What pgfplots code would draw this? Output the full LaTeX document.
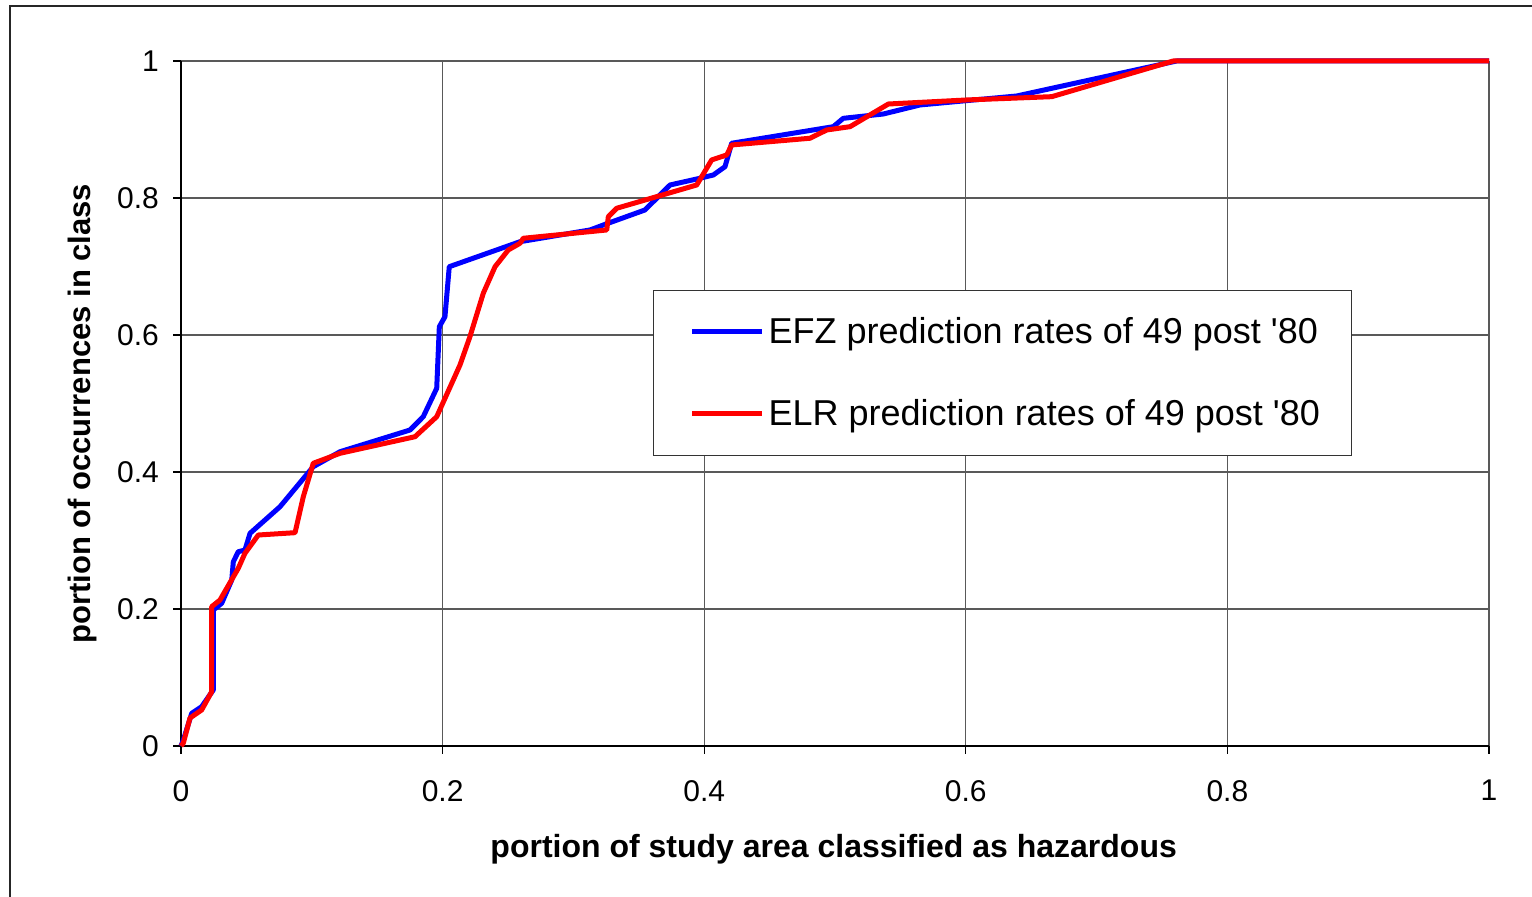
\documentclass[border=0pt]{standalone}
\usepackage{fontspec}
\setmainfont{Liberation Sans}
\usepackage{pgfplots}
\usepackage{pgfplotstable}
\pgfplotsset{compat=1.18}

\pgfplotstableread{
x y
0 0
0.0018 0.0088
0.0082 0.0477
0.0158 0.0574
0.0247 0.0818
0.0247 0.1985
0.0311 0.2083
0.0388 0.2423
0.0400 0.2690
0.0438 0.2836
0.0489 0.2861
0.0528 0.3105
0.0757 0.3493
0.1011 0.4077
0.1216 0.4296
0.1751 0.4613
0.1852 0.4807
0.1955 0.5222
0.1975 0.6121
0.2018 0.6267
0.2051 0.6997
0.2592 0.7362
0.3127 0.7533
0.3229 0.7606
0.3547 0.7825
0.3739 0.8190
0.3968 0.8288
0.4070 0.8336
0.4159 0.8457
0.4210 0.8799
0.4987 0.9041
0.5063 0.9163
0.5369 0.9226
0.5650 0.9358
0.6389 0.9489
0.7612 1.0000
1 1
}\efz

\pgfplotstableread{
x y
0 0
0.0018 0.0044
0.0069 0.0409
0.0158 0.0526
0.0235 0.0793
0.0235 0.2034
0.0298 0.2131
0.0438 0.2594
0.0489 0.2813
0.0591 0.3080
0.0872 0.3114
0.0935 0.3639
0.1011 0.4127
0.1216 0.4273
0.1789 0.4515
0.1955 0.4807
0.2133 0.5562
0.2209 0.5975
0.2311 0.6609
0.2401 0.6997
0.2502 0.7241
0.2592 0.7339
0.2617 0.7412
0.3255 0.7533
0.3267 0.7727
0.3331 0.7850
0.3943 0.8190
0.4057 0.8555
0.4172 0.8628
0.4210 0.8774
0.4809 0.8872
0.4937 0.8993
0.5115 0.9041
0.5408 0.9372
0.6007 0.9431
0.6657 0.9479
0.7586 1.0000
1 1
}\elr

\begin{document}
\begin{tikzpicture}
\useasboundingbox (0,0) rectangle (766pt,448.5pt);
\begin{axis}[
  at={(90.5pt,75.5pt)}, anchor=south west,
  scale only axis, width=654pt, height=342.5pt,
  xmin=0, xmax=1, ymin=0, ymax=1,
  xtick={0,0.2,0.4,0.6,0.8,1},
  ytick={0,0.2,0.4,0.6,0.8,1},
  xticklabels={0,0.2,0.4,0.6,0.8,1},
  yticklabels={0,0.2,0.4,0.6,0.8,1},
  axis x line=bottom, axis y line=left,
  axis line style={-, black, line width=0.75pt},
  tick align=outside, major tick length=4pt,
  tick style={black, line width=0.6pt},
  grid=major,
  major grid style={black!65, line width=0.55pt},
  clip=false,
  /pgf/number format/assume math mode=true,
  tick label style={font=\fontsize{15}{17}\selectfont},
  xticklabel style={yshift=-9.5pt},
  yticklabel style={xshift=-3.5pt},
  xlabel={\bfseries portion of study area classified as hazardous},
  ylabel={\bfseries portion of occurrences in class},
  xlabel style={at={(axis description cs:0.499,-0.1504)}, anchor=center, font=\fontsize{16}{18}\selectfont},
  ylabel style={at={(axis description cs:-0.0757,0.485)}, anchor=center, rotate=0, font=\fontsize{15.5}{18}\selectfont},
  legend style={at={(axis cs:0.361,0.666)}, anchor=north west,
    draw=black!80, line width=0.5pt,
    font=\fontsize{18}{21}\selectfont,
    inner xsep=14pt, inner ysep=11.5pt,
    row sep=22.5pt,
    nodes={inner sep=2pt},
    cells={anchor=west}},
  legend image code/.code={\path (0pt,0pt); \draw[#1] (4pt,0pt) -- (39pt,0pt);},
]
\addplot[blue, line width=2.5pt, line join=round] table[x=x,y=y] {\efz};
\addlegendentry{EFZ prediction rates of 49 post \textquotesingle80}
\addplot[red, line width=2.5pt, line join=round] table[x=x,y=y] {\elr};
\addlegendentry{ELR prediction rates of 49 post \textquotesingle80}
\end{axis}
\draw[black!85, line width=0.8pt] (5pt,-2pt) -- (5pt,445.5pt) -- (770pt,445.5pt);
\end{tikzpicture}
\end{document}
